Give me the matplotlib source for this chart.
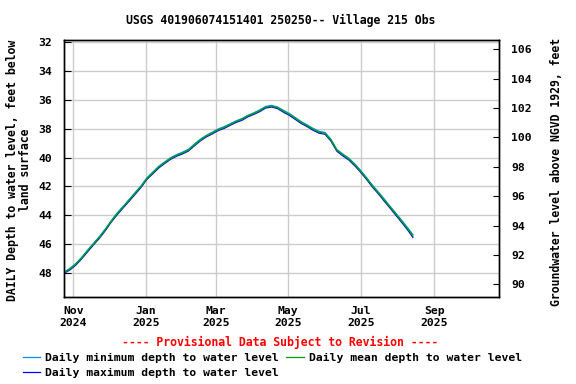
import numpy as np
import pandas as pd
import matplotlib
matplotlib.use("Agg")
import matplotlib.pyplot as plt
import matplotlib.dates as mdates

# depth readings every 5 days from Oct 24 2024 (last one Aug 14 2025)
start = pd.Timestamp("2024-10-24")
day_offsets = list(range(0, 291, 5)) + [294]

depth_mean = [47.96, 47.72, 47.38, 46.95, 46.45, 45.98, 45.52, 44.98, 44.40, 43.88,
              43.42, 42.95, 42.48, 42.00, 41.45, 41.05, 40.65, 40.35, 40.06, 39.85,
              39.69, 39.49, 39.13, 38.79, 38.52, 38.31, 38.08, 37.93, 37.72, 37.52,
              37.36, 37.13, 36.96, 36.77, 36.52, 36.45, 36.56, 36.80, 37.02, 37.30,
              37.58, 37.81, 38.05, 38.25, 38.33, 38.80, 39.50, 39.82, 40.10, 40.50,
              40.95, 41.45, 41.98, 42.45, 42.95, 43.45, 43.95, 44.45, 44.98, 45.42]
depth_min = [47.92, 47.67, 47.33, 46.90, 46.40, 45.93, 45.46, 44.93, 44.35, 43.82,
             43.37, 42.90, 42.42, 41.96, 41.40, 41.00, 40.60, 40.30, 40.01, 39.80,
             39.63, 39.43, 39.07, 38.73, 38.47, 38.25, 38.03, 37.87, 37.67, 37.47,
             37.31, 37.08, 36.91, 36.71, 36.47, 36.40, 36.51, 36.74, 36.96, 37.24,
             37.52, 37.75, 37.99, 38.19, 38.27, 38.74, 39.44, 39.76, 40.04, 40.44,
             40.89, 41.39, 41.92, 42.39, 42.88, 43.39, 43.88, 44.38, 44.90, 45.33]
depth_max = [48.01, 47.78, 47.44, 47.01, 46.52, 46.04, 45.58, 45.05, 44.46, 43.95,
             43.48, 43.02, 42.55, 42.07, 41.51, 41.12, 40.72, 40.41, 40.12, 39.91,
             39.75, 39.55, 39.19, 38.85, 38.58, 38.37, 38.14, 37.99, 37.78, 37.58,
             37.43, 37.19, 37.02, 36.83, 36.58, 36.51, 36.62, 36.87, 37.09, 37.37,
             37.65, 37.87, 38.12, 38.32, 38.39, 38.87, 39.57, 39.89, 40.17, 40.57,
             41.02, 41.52, 42.05, 42.52, 43.03, 43.52, 44.03, 44.53, 45.06, 45.52]

dates = [start + pd.Timedelta(days=d) for d in day_offsets]

tick_dates = pd.to_datetime(["2024-11-01", "2025-01-01", "2025-03-01",
                             "2025-05-01", "2025-07-01", "2025-09-01"])
tick_labels = ["Nov\n2024", "Jan\n2025", "Mar\n2025", "May\n2025", "Jul\n2025", "Sep\n2025"]
left_ticks = [32, 34, 36, 38, 40, 42, 44, 46, 48]
right_ticks = [90, 92, 94, 96, 98, 100, 102, 104, 106]

font = "DejaVu Sans Mono"
fs = 8.2
plt.rcParams["font.family"] = font
plt.rcParams["font.weight"] = "bold"

W, H = 576, 384
fig = plt.figure(figsize=(W / 100, H / 100), dpi=100)
ax = fig.add_axes([64.3 / W, 1 - 297 / H, (499 - 64.3) / W, (297 - 40) / H])

ax.plot(dates, depth_max, color="#0000ff", lw=0.9, label="Daily maximum depth to water level", zorder=3)
ax.plot(dates, depth_min, color="#0090ee", lw=0.9, label="Daily minimum depth to water level", zorder=4)
ax.plot(dates, depth_mean, color="#00a000", lw=0.9, label="Daily mean depth to water level", zorder=5)

ax.set_xlim(pd.Timestamp("2024-10-24 10:00"), pd.Timestamp("2025-10-25 12:00"))
ax.set_ylim(49.64, 31.88)
ax.set_yticks(left_ticks)
ax.set_yticklabels([str(t) for t in left_ticks])
ax.set_xticks(tick_dates)
ax.set_xticklabels(tick_labels, linespacing=1.25)
ax.tick_params(axis="x", length=0, pad=6.5, labelsize=fs)
ax.tick_params(axis="y", direction="in", length=5, width=0.8, pad=9, labelsize=fs)
ax.grid(True, color="#cccccc", lw=1.0)
ax.set_axisbelow(True)
for s in ax.spines.values():
    s.set_linewidth(1.0)

ax2 = ax.twinx()
ax2.set_ylim(89.14, 106.63)
ax2.set_yticks(right_ticks)
ax2.tick_params(axis="y", direction="in", length=4, width=0.8, pad=9, labelsize=fs)
for s in ax2.spines.values():
    s.set_linewidth(1.0)

fig.text(281 / W, 1 - 20 / H, "USGS 401906074151401 250250-- Village 215 Obs",
         ha="center", va="center", fontsize=fs + 0.1)
fig.text(19 / W, 1 - 170 / H, "DAILY Depth to water level, feet below\nland surface",
         rotation=90, ha="center", va="center", multialignment="center",
         fontsize=fs + 0.1, linespacing=1.05)
fig.text(557 / W, 1 - 172 / H, "Groundwater level above NGVD 1929, feet",
         rotation=90, ha="center", va="center", fontsize=fs + 0.1)
fig.text(280 / W, 1 - 342 / H, "---- Provisional Data Subject to Revision ----",
         ha="center", va="center", color="red", fontsize=fs + 0.1)

h, l = ax.get_legend_handles_labels()
order = [1, 0, 2]
fig.legend([h[i] for i in order], [l[i] for i in order], ncol=2, frameon=False,
           loc="upper left", bbox_to_anchor=(17 / W, 1 - 347 / H),
           borderpad=0, handlelength=1.55, handletextpad=0.45, columnspacing=0.6,
           labelspacing=0.45, prop={"family": font, "weight": "bold", "size": fs})

fig.savefig("out.png", dpi=100)
